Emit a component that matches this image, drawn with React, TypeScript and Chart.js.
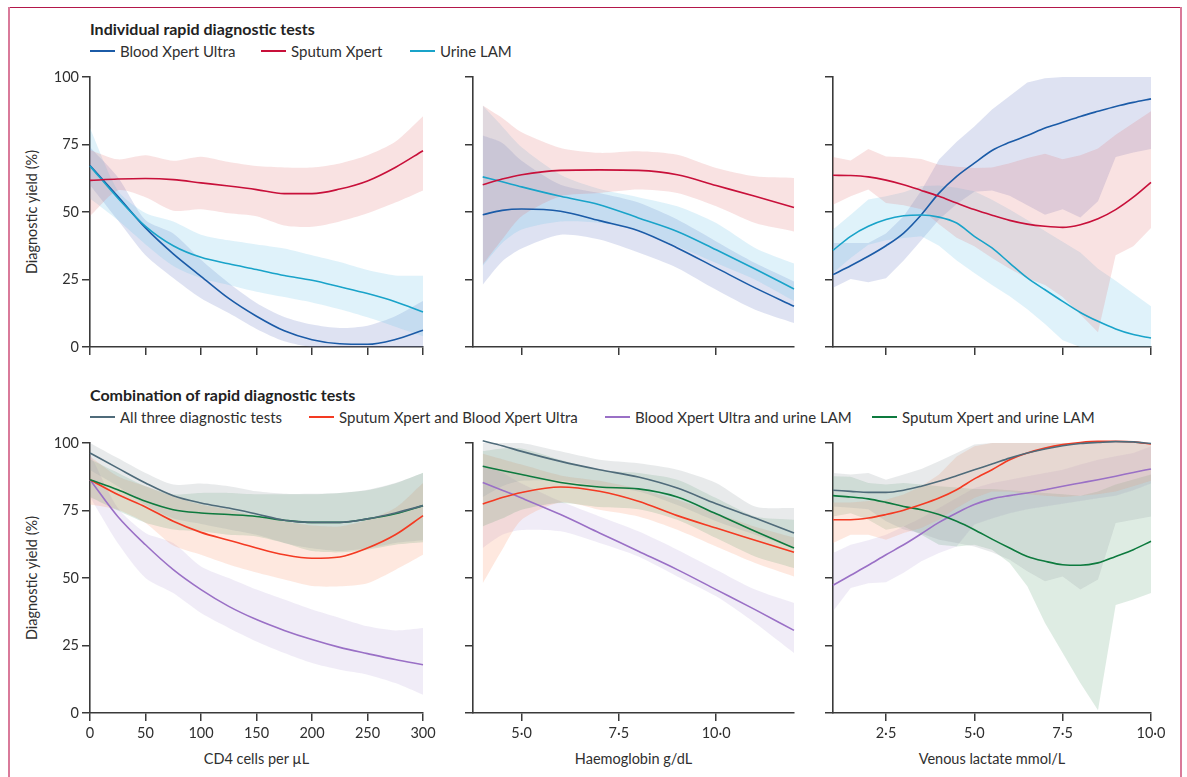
import React, { useEffect, useRef } from "react";
import { Chart, registerables } from "chart.js";
Chart.register(...registerables);

const FONT = "Lato, 'Noto Sans', sans-serif";
const AXIS = "#3a3a3a";
const TXT = "#2f2f2f";

// ---------- Top row: individual tests ----------
const CD4_X = [0, 25, 50, 75, 100, 125, 150, 175, 200, 225, 250, 275, 300];
const T1_SPUTUM = [61.7, 62.2, 62.4, 62.0, 60.8, 59.6, 58.3, 56.8, 56.8, 58.5, 61.5, 66.5, 72.7];
const T1_SPUTUM_UP = [73, 69.5, 71, 69, 70.5, 68.5, 67, 66.5, 66.5, 68, 71, 76, 85.5];
const T1_SPUTUM_LO = [48.5, 58, 55.5, 50.5, 51, 49.5, 48.4, 45, 44.5, 46.5, 49.5, 53.5, 58];
const T1_BLOOD = [67.2, 55.8, 44.1, 34.5, 26.2, 18, 11.4, 6, 2.7, 1.2, 1.0, 2.8, 6.2];
const T1_BLOOD_UP = [74, 63, 47, 42, 32.3, 23.7, 16.3, 11.1, 8.3, 7, 7.9, 11.4, 17];
const T1_BLOOD_LO = [60, 47, 34, 25.6, 18.1, 12.6, 6.7, 2.1, 0, 0, 0, 0, 0];
const T1_URINE = [67, 55.2, 44.7, 37.5, 33.2, 30.8, 28.7, 26.5, 24.7, 22.3, 19.8, 16.8, 13];
const T1_URINE_UP = [81, 58, 49.6, 46.5, 41.6, 39.5, 38, 36.5, 34, 31.5, 28.5, 26.5, 26.4];
const T1_URINE_LO = [55, 47, 38, 30, 25.5, 23, 20.5, 18.5, 16.5, 14, 11, 7.5, 4];

const HB_X = [4, 4.5, 5, 6, 7, 8, 9, 10, 11, 12];
const T2_SPUTUM = [60.1, 62.2, 63.8, 65.4, 65.6, 65.4, 63.8, 59.8, 55.8, 51.7];
const T2_SPUTUM_UP = [89.4, 84.8, 79.5, 73.7, 71.9, 72.5, 71.2, 66.3, 63.2, 62.6];
const T2_SPUTUM_LO = [30.5, 39.8, 48.4, 55.8, 57, 58.3, 57, 52.1, 45.9, 42.8];
const T2_URINE = [63, 61.2, 59.3, 55.8, 52.7, 47.8, 42.8, 36, 28.9, 21.5];
const T2_URINE_UP = [89.4, 81.7, 74, 63.8, 58.5, 55.5, 52.1, 45.9, 36.7, 30.9];
const T2_URINE_LO = [30, 38.5, 43.5, 46.5, 46, 43, 37.3, 31.1, 24.9, 17];
const T2_BLOOD = [49, 50.6, 51.1, 50.3, 46.8, 43.1, 36.7, 29.3, 21.9, 15.1];
const T2_BLOOD_UP = [78.3, 75.6, 69, 60.1, 57, 53.5, 47.2, 39.1, 31.1, 24.3];
const T2_BLOOD_LO = [23.1, 31.7, 36.5, 41.6, 39.8, 35, 29.3, 21.2, 13.8, 8.9];

const LAC_X = [1, 1.5, 2, 2.5, 3, 3.5, 4, 4.5, 5, 5.5, 6, 6.5, 7, 7.5, 8, 8.5, 9, 9.5, 10];
const T3_BLOOD = [26.8, 30.1, 33.6, 37.5, 42.2, 49, 57, 63.2, 68.1, 72.8, 75.8, 78.3, 81.1, 83.2, 85.4, 87.3, 89.1, 90.6, 91.9];
const T3_BLOOD_UP = [38.5, 38.5, 38.5, 42, 48.4, 58, 69.4, 76, 81.7, 88, 93, 98, 99.5, 100, 100, 100, 100, 100, 100];
const T3_BLOOD_LO = [21.9, 25.2, 24, 25.5, 32, 39.5, 47.2, 53, 57.5, 58, 56, 52.5, 49, 51, 48, 54, 70.4, 72, 73.3];
const T3_SPUTUM = [63.6, 63.5, 63, 61.8, 60.1, 58, 55.8, 53.3, 50.9, 48.8, 46.9, 45.5, 44.7, 44.3, 45.3, 47.5, 50.9, 55.5, 61];
const T3_SPUTUM_UP = [70.4, 69.1, 73.3, 70.6, 70.3, 69.6, 67.5, 66.8, 66.3, 66.5, 68.1, 70, 71.6, 69.5, 71, 73.5, 78.6, 83, 87.3];
const T3_SPUTUM_LO = [52.7, 55.8, 58.3, 53.3, 52.5, 51, 45.5, 40.5, 37.3, 33, 29, 25.5, 23, 18.5, 12, 5.5, 34, 37.3, 44.1];
const T3_URINE = [35.8, 41, 44.7, 47.2, 48.6, 48.9, 48.1, 45.9, 41, 36.7, 31.1, 25.6, 21.2, 16.9, 12.8, 9.5, 6.7, 4.6, 3.3];
const T3_URINE_UP = [43.5, 49, 54.6, 55.8, 57.3, 59.6, 59.8, 59, 57.7, 54.5, 50.9, 47, 43, 39, 35, 29, 24.5, 19.8, 15.1];
const T3_URINE_LO = [27.4, 33, 37.9, 39.5, 40.4, 41, 37.5, 32, 27.4, 23, 18.8, 14, 8.5, 2.5, 0, 0, 0, 0, 0];

// ---------- Bottom row: combinations ----------
const B1_ALL = [96.3, 90.7, 85.2, 80.5, 77.8, 75.9, 73.7, 71.4, 70.6, 70.6, 71.9, 74.1, 76.8];
const B1_ALL_UP = [100, 94.4, 88.9, 84.6, 85, 84, 82.1, 81.2, 81.2, 81.5, 82.7, 85.2, 88.9];
const B1_ALL_LO = [90, 84, 77, 72, 70, 68, 66, 63, 61, 60, 61, 63, 64];
const B1_SB = [86.4, 80.9, 76.3, 71, 66.9, 64, 61.1, 58.6, 57.3, 57.8, 61.1, 66, 73.1];
const B1_SB_UP = [95, 87.7, 84, 80.2, 77.2, 75.3, 72.8, 71, 69.4, 69.1, 71.6, 75.9, 85.2];
const B1_SB_LO = [77.2, 75.3, 70.4, 62, 58.6, 55, 52, 49.4, 47, 46.9, 48.1, 53, 58.6];
const B1_BL = [86.4, 72.8, 62.3, 53.1, 45.7, 39.5, 34.6, 30.6, 27.2, 24.3, 22, 19.8, 17.9];
const B1_BL_UP = [96, 76, 66.7, 63, 54.3, 50, 45.7, 42, 38.3, 35.2, 32.1, 30.6, 31.5];
const B1_BL_LO = [80, 63, 50, 44.4, 37, 31.5, 26.5, 22.2, 18.5, 16, 14.2, 11.1, 6.8];
const B1_SL = [86.4, 82.7, 78.4, 75.3, 74.1, 73.5, 72.8, 71.4, 70.6, 70.6, 71.9, 73.8, 76.8];
const B1_SL_UP = [94, 89, 84, 81, 81.5, 81.5, 81, 81, 81, 81.5, 82.5, 85, 89];
const B1_SL_LO = [80, 75, 70.5, 68, 67.3, 66, 65.4, 63, 60, 59.5, 60.5, 62.3, 63.2];

const B2_ALL = [100.8, 99, 96.9, 93.2, 90.1, 87.4, 83.3, 77.5, 72.2, 66.7];
const B2_ALL_UP = [100, 100, 100, 96.9, 93.8, 92.5, 90.1, 85.2, 76.5, 75.9];
const B2_ALL_LO = [80, 84, 86, 86, 84, 82, 77, 71, 66, 61];
const B2_SB = [77.4, 79.8, 81.7, 83.7, 82.1, 78.4, 73.1, 68.5, 64, 59.5];
const B2_SB_UP = [96, 94, 92, 88, 86, 83, 79, 74, 69, 65];
const B2_SB_LO = [48.1, 60.5, 71.6, 78, 75.3, 72.8, 67.9, 61.7, 55.6, 50.6];
const B2_BL = [85.4, 82.5, 79.6, 73.5, 66.7, 59.9, 53.1, 45.7, 38.3, 30.6];
const B2_BL_UP = [92, 89, 85, 78.4, 72.8, 67.3, 60.5, 53.1, 45.7, 40.7];
const B2_BL_LO = [61.1, 66, 67.8, 67.3, 63, 58, 50.6, 43.2, 33.3, 22.2];
const B2_SL = [91.4, 89.8, 88.3, 85.4, 83.7, 83, 80, 73.8, 67.3, 61.1];
const B2_SL_UP = [97, 98, 98, 93.8, 90, 88.9, 86.4, 79.6, 72.8, 71.6];
const B2_SL_LO = [69.1, 72, 75.3, 77.8, 76.3, 75.5, 71.6, 64.8, 58, 53.7];

const B3_ALL = [82.5, 82.1, 81.7, 81.7, 82.5, 84, 85.8, 87.9, 90.1, 92.2, 94.4, 96.3, 97.8, 99, 99.8, 100.2, 100.5, 100.4, 99.8];
const B3_ALL_UP = [88.9, 88.3, 88.9, 86.4, 88.3, 90.4, 93.2, 96.3, 99.4, 100, 100, 100, 100, 100, 100, 100, 100, 100, 100];
const B3_ALL_LO = [76.5, 76, 75.5, 71, 68, 66.5, 64.2, 63, 61.7, 59.5, 56.8, 52.5, 48.8, 50.6, 45.7, 49.4, 70.4, 71.6, 72.8];
const B3_SB = [71.6, 71.6, 72.2, 73.5, 75.1, 77.2, 79.6, 82.7, 86.7, 90.1, 93.8, 96.3, 98.1, 99.4, 100.2, 100.6, 100.6, 100.4, 99.6];
const B3_SB_UP = [78, 78, 78.5, 79, 80.9, 84, 88.3, 95, 98.8, 100, 100, 100, 100, 100, 100, 100, 100, 100, 100];
const B3_SB_LO = [63, 66, 66, 64.2, 66.7, 68.5, 71.6, 75.9, 79.6, 82, 82, 81, 80.5, 80, 80.5, 81, 82, 84, 86];
const B3_BL = [47.3, 51, 54.7, 58.6, 62.3, 66.4, 70.6, 74.1, 77.2, 79.3, 80.5, 81.5, 82.7, 84, 85.2, 86.4, 87.7, 89.1, 90.4];
const B3_BL_UP = [59.3, 62.3, 64, 66, 69.1, 72.2, 75.9, 79.6, 83.3, 85.2, 86.4, 87.7, 88.9, 90.1, 92, 93.8, 95.1, 96.3, 98.8];
const B3_BL_LO = [37.7, 46.3, 48.1, 48.4, 51.9, 56.2, 59.3, 61.7, 69.8, 72, 74, 75.5, 76.5, 77.5, 78.5, 79.5, 80.5, 82.5, 85];
const B3_SL = [80.5, 80, 79.3, 78, 76.5, 75.3, 73.5, 71, 67.9, 64.4, 61.1, 58, 56.2, 54.9, 54.7, 55.6, 58, 60.5, 63.6];
const B3_SL_UP = [87.7, 87.5, 85.2, 84.6, 85.2, 84.6, 84, 83.5, 83, 83, 82.5, 82, 81.5, 81, 80.5, 82, 84.6, 86.5, 88.3];
const B3_SL_LO = [72.8, 74, 71.6, 67.9, 69.1, 66, 62.3, 61.7, 62.3, 60.5, 55.6, 46.9, 33.3, 22.2, 11.1, 1, 40, 42, 44.4];

const Y_TICKS = [0, 25, 50, 75, 100];
const CD4_TICKS = [0, 50, 100, 150, 200, 250, 300];
const HB_TICKS = [5, 7.5, 10];
const LAC_TICKS = [2.5, 5, 7.5, 10];

const TOP_LEGEND = ["Blood Xpert Ultra", "Sputum Xpert", "Urine LAM"];
const BOTTOM_LEGEND = [
  "All three diagnostic tests",
  "Sputum Xpert and Blood Xpert Ultra",
  "Blood Xpert Ultra and urine LAM",
  "Sputum Xpert and urine LAM",
];

const C = {
  blood: { line: "#1b5ba7", band: "rgba(105,125,195,0.22)" },
  sputum: { line: "#c8103a", band: "rgba(225,110,110,0.2)" },
  urine: { line: "#19a3c9", band: "rgba(110,195,232,0.22)" },
  all: { line: "#4f6b7a", band: "rgba(150,158,165,0.22)" },
  sb: { line: "#f43a22", band: "rgba(250,150,110,0.22)" },
  bl: { line: "#9a70c6", band: "rgba(165,145,205,0.17)" },
  sl: { line: "#0d7a3e", band: "rgba(70,150,100,0.18)" },
};

type S = { color: { line: string; band: string }; line: number[]; up: number[]; lo: number[] };

const dot = (v: number) => v.toFixed(1).replace(".", "\u00b7");

type PanelProps = {
  L: number; R: number; T: number; B: number;
  xMin: number; xMax: number; xTicks: number[]; xs: number[];
  series: S[]; yLabels: boolean; xLabels: boolean; fmt: (v: number) => string; bandTension: number;
};

const PADL = 60, PADT = 12, PADR = 26, PADB = 40;

function Panel(p: PanelProps) {
  const ref = useRef<HTMLCanvasElement>(null);
  const w = p.R - p.L + PADL + PADR;
  const h = p.B - p.T + PADT + PADB;
  useEffect(() => {
    if (!ref.current) return;
    const pts = (ys: number[]) => p.xs.map((x, i) => ({ x, y: ys[i] }));
    const datasets: any[] = [];
    p.series.forEach((s) => {
      datasets.push({
        data: pts(s.line), borderColor: s.color.line, borderWidth: 1.6, pointRadius: 0,
        fill: false, cubicInterpolationMode: "monotone", order: 0, clip: 6,
      });
    });
    p.series.forEach((s) => {
      datasets.push({
        data: pts(s.up), borderColor: "transparent", borderWidth: 0, pointRadius: 0,
        backgroundColor: s.color.band, fill: "+1", tension: p.bandTension, order: 1,
      });
      datasets.push({
        data: pts(s.lo), borderColor: "transparent", borderWidth: 0, pointRadius: 0,
        fill: false, tension: p.bandTension, order: 1,
      });
    });
    const grid = { drawOnChartArea: false, drawTicks: true, tickLength: 8, color: AXIS, lineWidth: 1.5 };
    const border = { display: true, color: AXIS, width: 1.6 };
    const chart = new Chart(ref.current, {
      type: "line",
      data: { datasets },
      options: {
        animation: false,
        responsive: false,
        events: [],
        layout: { padding: { left: 0, top: PADT, right: PADR, bottom: 0 } },
        plugins: { legend: { display: false }, tooltip: { enabled: false } },
        scales: {
          x: {
            type: "linear", min: p.xMin, max: p.xMax,
            afterBuildTicks: (s: any) => { s.ticks = p.xTicks.map((v) => ({ value: v })); },
            afterFit: (s: any) => { s.height = PADB; },
            grid, border,
            ticks: {
              display: p.xLabels, color: TXT, padding: 4, maxRotation: 0, autoSkip: false,
              font: { family: FONT, size: 14.5 },
              callback: (v: any) => p.fmt(Number(v)),
            },
          },
          y: {
            type: "linear", min: 0, max: 100,
            afterBuildTicks: (s: any) => { s.ticks = Y_TICKS.map((v) => ({ value: v })); },
            afterFit: (s: any) => { s.width = PADL; },
            grid, border,
            ticks: {
              display: p.yLabels, color: TXT, padding: 3,
              font: { family: FONT, size: 14.5 },
              callback: (v: any) => String(v),
            },
          },
        },
      } as any,
    });
    return () => chart.destroy();
  }, []);
  return (
    <canvas
      ref={ref}
      width={w}
      height={h}
      style={{ position: "absolute", left: p.L - PADL, top: p.T - PADT, width: w, height: h }}
    />
  );
}

const abs = (x: number, y: number, extra: React.CSSProperties = {}): React.CSSProperties => ({
  position: "absolute", left: x, top: y, whiteSpace: "nowrap", fontFamily: FONT, color: TXT, ...extra,
});

function LegendItem({ x, y, color, label }: { x: number; y: number; color: string; label: string }) {
  return (
    <>
      <div style={{ position: "absolute", left: x, top: y - 1, width: 25, height: 2, background: color }} />
      <div style={abs(x + 30, y - 10, { fontSize: 15, lineHeight: "20px" })}>{label}</div>
    </>
  );
}

function YTitle({ cy }: { cy: number }) {
  return (
    <div
      style={abs(32 - 90, cy - 10, {
        width: 180, textAlign: "center", fontSize: 14.5, lineHeight: "20px",
        transform: "rotate(-90deg)", transformOrigin: "50% 50%",
      })}
    >
      Diagnostic yield (%)
    </div>
  );
}

function XTitle({ cx, label }: { cx: number; label: string }) {
  return (
    <div style={abs(cx - 120, 749, { width: 240, textAlign: "center", fontSize: 14.5, lineHeight: "20px" })}>
      {label}
    </div>
  );
}

export default function App() {
  const top = { T: 77, B: 347 };
  const bot = { T: 443, B: 713 };
  const p1 = { L: 90, R: 423, xMin: 0, xMax: 300, xTicks: CD4_TICKS, xs: CD4_X, fmt: (v: number) => String(v) };
  const p2 = { L: 473, R: 794, xMin: 3.75, xMax: 12, xTicks: HB_TICKS, xs: HB_X, fmt: dot };
  const p3 = { L: 833, R: 1151, xMin: 1, xMax: 10, xTicks: LAC_TICKS, xs: LAC_X, fmt: dot };

  return (
    <div style={{ position: "absolute", left: 0, top: 0, width: 1187, height: 777, overflow: "hidden", background: "#fff" }}>
      {/* frame */}
      <div style={{ position: "absolute", left: 8, top: 7, width: 1173, height: 1, background: "#b3174a" }} />
      <div style={{ position: "absolute", left: 8, top: 7, width: 2, height: 770, background: "#d97a9a" }} />
      <div style={{ position: "absolute", left: 1180, top: 7, width: 2, height: 770, background: "#d97a9a" }} />

      <div style={abs(90, 19, { fontSize: 16, fontWeight: 700, lineHeight: "20px", color: "#222" })}>
        Individual rapid diagnostic tests
      </div>
      <LegendItem x={90} y={51} color={C.blood.line} label={TOP_LEGEND[0]} />
      <LegendItem x={261} y={51} color={C.sputum.line} label={TOP_LEGEND[1]} />
      <LegendItem x={410} y={51} color={C.urine.line} label={TOP_LEGEND[2]} />

      <div style={abs(90, 385, { fontSize: 16, fontWeight: 700, lineHeight: "20px", color: "#222" })}>
        Combination of rapid diagnostic tests
      </div>
      <LegendItem x={90} y={417} color={C.all.line} label={BOTTOM_LEGEND[0]} />
      <LegendItem x={309} y={417} color={C.sb.line} label={BOTTOM_LEGEND[1]} />
      <LegendItem x={605} y={417} color={C.bl.line} label={BOTTOM_LEGEND[2]} />
      <LegendItem x={872} y={417} color={C.sl.line} label={BOTTOM_LEGEND[3]} />

      <YTitle cy={212} />
      <YTitle cy={578} />
      <XTitle cx={256.5} label="CD4 cells per µL" />
      <XTitle cx={633.5} label="Haemoglobin g/dL" />
      <XTitle cx={992} label="Venous lactate mmol/L" />

      <Panel {...p1} {...top} yLabels={true} xLabels={false} bandTension={0.25}
        series={[
          { color: C.sputum, line: T1_SPUTUM, up: T1_SPUTUM_UP, lo: T1_SPUTUM_LO },
          { color: C.urine, line: T1_URINE, up: T1_URINE_UP, lo: T1_URINE_LO },
          { color: C.blood, line: T1_BLOOD, up: T1_BLOOD_UP, lo: T1_BLOOD_LO },
        ]} />
      <Panel {...p2} {...top} yLabels={false} xLabels={false} bandTension={0.25}
        series={[
          { color: C.sputum, line: T2_SPUTUM, up: T2_SPUTUM_UP, lo: T2_SPUTUM_LO },
          { color: C.urine, line: T2_URINE, up: T2_URINE_UP, lo: T2_URINE_LO },
          { color: C.blood, line: T2_BLOOD, up: T2_BLOOD_UP, lo: T2_BLOOD_LO },
        ]} />
      <Panel {...p3} {...top} yLabels={false} xLabels={false} bandTension={0}
        series={[
          { color: C.sputum, line: T3_SPUTUM, up: T3_SPUTUM_UP, lo: T3_SPUTUM_LO },
          { color: C.urine, line: T3_URINE, up: T3_URINE_UP, lo: T3_URINE_LO },
          { color: C.blood, line: T3_BLOOD, up: T3_BLOOD_UP, lo: T3_BLOOD_LO },
        ]} />

      <Panel {...p1} {...bot} yLabels={true} xLabels={true} bandTension={0.25}
        series={[
          { color: C.all, line: B1_ALL, up: B1_ALL_UP, lo: B1_ALL_LO },
          { color: C.sl, line: B1_SL, up: B1_SL_UP, lo: B1_SL_LO },
          { color: C.sb, line: B1_SB, up: B1_SB_UP, lo: B1_SB_LO },
          { color: C.bl, line: B1_BL, up: B1_BL_UP, lo: B1_BL_LO },
        ]} />
      <Panel {...p2} {...bot} yLabels={false} xLabels={true} bandTension={0.25}
        series={[
          { color: C.all, line: B2_ALL, up: B2_ALL_UP, lo: B2_ALL_LO },
          { color: C.sl, line: B2_SL, up: B2_SL_UP, lo: B2_SL_LO },
          { color: C.sb, line: B2_SB, up: B2_SB_UP, lo: B2_SB_LO },
          { color: C.bl, line: B2_BL, up: B2_BL_UP, lo: B2_BL_LO },
        ]} />
      <Panel {...p3} {...bot} yLabels={false} xLabels={true} bandTension={0}
        series={[
          { color: C.all, line: B3_ALL, up: B3_ALL_UP, lo: B3_ALL_LO },
          { color: C.sb, line: B3_SB, up: B3_SB_UP, lo: B3_SB_LO },
          { color: C.sl, line: B3_SL, up: B3_SL_UP, lo: B3_SL_LO },
          { color: C.bl, line: B3_BL, up: B3_BL_UP, lo: B3_BL_LO },
        ]} />
    </div>
  );
}
